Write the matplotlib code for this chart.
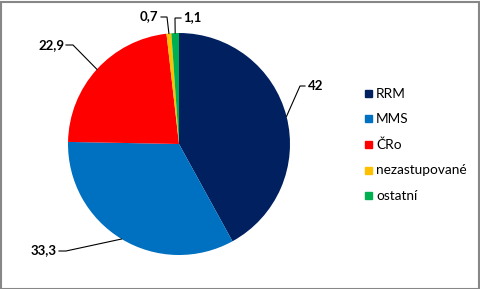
import numpy as np
import matplotlib.pyplot as plt
from matplotlib.patches import Rectangle

kategorie = ['RRM', 'MMS', 'ČRo', 'nezastupované', 'ostatní']
hodnoty = [42, 33.3, 22.9, 0.7, 1.1]
popisky = ['42', '33,3', '22,9', '0,7', '1,1']
barvy = ['#002060', '#0070C0', '#FF0000', '#FFC000', '#00B050']

W, H = 481, 289
fig = plt.figure(figsize=(W / 100, H / 100), dpi=100)

# pie axes: center (179,144) px, radius 111 px
cx, cy, r = 179, 144, 111
ax = fig.add_axes([(cx - r) / W, 1 - (cy + r) / H, 2 * r / W, 2 * r / H])
wedges, _ = ax.pie(hodnoty, colors=barvy, startangle=90, counterclock=False,
                   radius=1, wedgeprops=dict(linewidth=0))
ax.set_xlim(-1, 1)
ax.set_ylim(-1, 1)
ax.set_aspect('equal')
ax.axis('off')


def px(x, y):
    return (x - cx) / r, (cy - y) / r


# label layout: (elbow px, line end px, text px, alignment)
rozlozeni = [
    ((300, 86), (305, 86), (308, 86), 'left'),
    ((66, 251), (59, 251), (57, 250), 'right'),
    ((73, 45), (66, 45), (64, 45), 'right'),
    ((167, 17), (161, 17), (158, 16), 'right'),
    ((175, 18), (181, 18), (183, 17), 'left'),
]

for w, lab, (elb, end, tpos, ha) in zip(wedges, popisky, rozlozeni):
    ang = np.deg2rad((w.theta1 + w.theta2) / 2)
    ex, ey = np.cos(ang), np.sin(ang)
    bx, by = px(*elb)
    kx, ky = px(*end)
    ax.plot([ex, bx, kx], [ey, by, ky], color='black', lw=0.8,
            clip_on=False, solid_joinstyle='miter')
    tx, ty = px(*tpos)
    ax.text(tx, ty, lab, ha=ha, va='center', fontsize=9.5, fontweight='bold',
            family='Lato', clip_on=False)

# legend
for i, (k, c) in enumerate(zip(kategorie, barvy)):
    y = 1 - (93.5 + i * 25.5) / H
    fig.patches.append(Rectangle((365 / W, y - 3.5 / H), 7 / W, 7 / H,
                                 transform=fig.transFigure, color=c))
    fig.text(376 / W, y, k, ha='left', va='center', fontsize=9.8,
             family='Lato')

fig.patches.append(Rectangle((0.5 / W, 0.5 / H), (W - 2) / W, (H - 2) / H,
                             transform=fig.transFigure, fill=False,
                             edgecolor='#878787', lw=1.5))

plt.savefig('out.png', dpi=100)
